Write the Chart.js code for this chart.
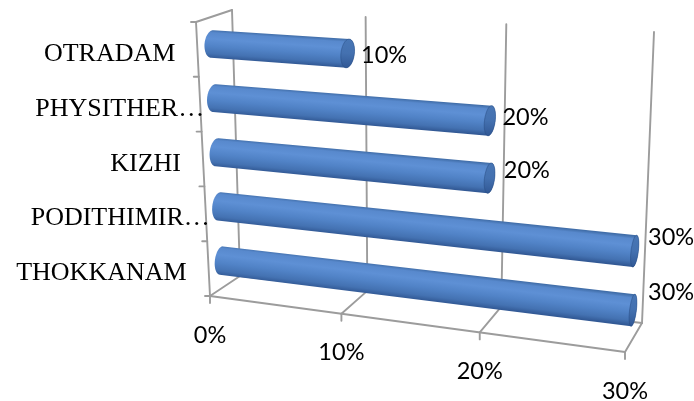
<!DOCTYPE html>
<html>
<head>
<meta charset="utf-8">
<script src="https://cdn.jsdelivr.net/npm/chart.js@4/dist/chart.umd.min.js"></script>
<style>
  html, body { margin: 0; padding: 0; background: #ffffff; }
  #wrap { width: 694px; height: 401px; }
</style>
</head>
<body>
<div id="wrap"><canvas id="chart" width="694" height="401"></canvas></div>
<script>
// Rows listed top to bottom, values in percent
const categories = ['OTRADAM', 'PHYSITHER…', 'KIZHI', 'PODITHIMIR…', 'THOKKANAM'];
const shares = [10, 20, 20, 30, 30];
const tickValues = [0, 10, 20, 30];
const tickLabels = ['0%', '10%', '20%', '30%'];

// Oblique view of the 3-D box: the front plane (depth 0) and the back wall
// (depth 1), each given by its corners for (u,v) = (0,0), (1,0), (0,1), (1,1).
const FRONT = [[196, 22], [631, 53], [210, 296], [625, 352]];
const BACK  = [[232, 10], [654, 32], [240, 276], [642, 323]];
const PERSPECTIVE = 0.075;   // value axis widens slightly toward the right
const BAR_DEPTH = 0.42;      // depth of the cylinder axes
const BAR_RADIUS_DEPTH = 0.22;

const GRID = '#9c9c9c';
const SERIF = '"Liberation Serif", "Times New Roman", serif';
const SANS = 'Lato, "Open Sans", sans-serif';

function warpU(u) { return u - PERSPECTIVE * u * (1 - u); }
function bilinear(q, u, v) {
  const tx = q[0][0] + (q[1][0] - q[0][0]) * u, ty = q[0][1] + (q[1][1] - q[0][1]) * u;
  const bx = q[2][0] + (q[3][0] - q[2][0]) * u, by = q[2][1] + (q[3][1] - q[2][1]) * u;
  return [tx + (bx - tx) * v, ty + (by - ty) * v];
}
function proj(u, v, d) {
  const w = warpU(u);
  const f = bilinear(FRONT, w, v), b = bilinear(BACK, w, v);
  return [f[0] + (b[0] - f[0]) * d, f[1] + (b[1] - f[1]) * d];
}

function ellipseAt(u, v, rv) {
  const c = proj(u, v, BAR_DEPTH);
  const pv = proj(u, v + rv, BAR_DEPTH);
  const pd = proj(u, v, BAR_DEPTH + BAR_RADIUS_DEPTH);
  return { c, A: [pv[0] - c[0], pv[1] - c[1]], B: [pd[0] - c[0], pd[1] - c[1]] };
}
function onEllipse(e, t) {
  return [e.c[0] + Math.cos(t) * e.A[0] + Math.sin(t) * e.B[0],
          e.c[1] + Math.cos(t) * e.A[1] + Math.sin(t) * e.B[1]];
}
function dot(p, q) { return p[0] * q[0] + p[1] * q[1]; }

// Half of an ellipse between its two silhouette points, on the side given by sign
function halfArc(ctx, e, tStart, axis, sign, first) {
  const mid = onEllipse(e, tStart + Math.PI / 2);
  const dir = Math.sign(dot([mid[0] - e.c[0], mid[1] - e.c[1]], axis)) === sign ? 1 : -1;
  const N = 40;
  for (let k = 0; k <= N; k++) {
    const p = onEllipse(e, tStart + dir * Math.PI * k / N);
    if (k === 0 && first) ctx.moveTo(p[0], p[1]); else ctx.lineTo(p[0], p[1]);
  }
}

function drawCylinder(ctx, u0, u1, v, rv) {
  const L = ellipseAt(u0, v, rv), R = ellipseAt(u1, v, rv);
  let ax = [R.c[0] - L.c[0], R.c[1] - L.c[1]];
  const len = Math.hypot(ax[0], ax[1]) || 1;
  ax = [ax[0] / len, ax[1] / len];
  const n = [-ax[1], ax[0]];
  const tBotL = Math.atan2(dot(L.B, n), dot(L.A, n));
  const tBotR = Math.atan2(dot(R.B, n), dot(R.A, n));

  // body: left rounded end, then the far cap outline
  ctx.beginPath();
  halfArc(ctx, L, tBotL + Math.PI, ax, -1, true);
  halfArc(ctx, R, tBotR, ax, 1, false);
  ctx.closePath();
  const m = [(L.c[0] + R.c[0]) / 2, (L.c[1] + R.c[1]) / 2];
  const bl = onEllipse(L, tBotL), br = onEllipse(R, tBotR);
  const hL = dot([bl[0] - L.c[0], bl[1] - L.c[1]], n);
  const hR = dot([br[0] - R.c[0], br[1] - R.c[1]], n);
  const h = (hL + hR) / 2;
  const g = ctx.createLinearGradient(m[0] - n[0] * h, m[1] - n[1] * h, m[0] + n[0] * h, m[1] + n[1] * h);
  g.addColorStop(0.00, '#416ea9');
  g.addColorStop(0.10, '#5889cd');
  g.addColorStop(0.32, '#5e90d5');
  g.addColorStop(0.58, '#5183c7');
  g.addColorStop(0.84, '#4472b2');
  g.addColorStop(1.00, '#325995');
  ctx.fillStyle = g;
  ctx.fill();

  // visible end cap
  ctx.beginPath();
  for (let k = 0; k <= 60; k++) {
    const p = onEllipse(R, 2 * Math.PI * k / 60);
    if (k === 0) ctx.moveTo(p[0], p[1]); else ctx.lineTo(p[0], p[1]);
  }
  ctx.closePath();
  const gc = ctx.createLinearGradient(R.c[0] - n[0] * hR, R.c[1] - n[1] * hR, R.c[0] + n[0] * hR, R.c[1] + n[1] * hR);
  gc.addColorStop(0, '#4876b5');
  gc.addColorStop(0.5, '#4471b0');
  gc.addColorStop(1, '#315895');
  ctx.fillStyle = gc;
  ctx.fill();
  ctx.strokeStyle = 'rgba(40,75,130,0.5)';
  ctx.lineWidth = 1;
  ctx.stroke();
}

const box3d = {
  id: 'box3d',
  beforeDatasetsDraw(chart) {
    const { ctx, chartArea: a, scales: { x, y } } = chart;
    const W = a.right - a.left, H = a.bottom - a.top;
    const U = val => (x.getPixelForValue(val) - a.left) / W;
    const seg = (p, q) => { ctx.beginPath(); ctx.moveTo(p[0], p[1]); ctx.lineTo(q[0], q[1]); ctx.stroke(); };
    ctx.save();
    ctx.strokeStyle = GRID;
    ctx.lineWidth = 1.9;
    ctx.lineCap = 'round';
    // back wall gridlines and floor
    tickValues.forEach(t => {
      const u = U(t);
      seg(proj(u, 0, 1), proj(u, 1, 1));
      seg(proj(u, 1, 0), proj(u, 1, 1));
      const p = proj(u, 1, 0);
      seg(p, [p[0], p[1] + 7]);
    });
    seg(proj(0, 1, 1), proj(1, 1, 1));
    seg(proj(0, 1, 0), proj(1, 1, 0));
    // side wall
    seg(proj(0, 0, 0), proj(0, 0, 1));
    seg(proj(0, 0, 0), proj(0, 1, 0));
    // category boundaries on the front edge of the side wall
    const centers = categories.map((_, i) => (y.getPixelForValue(i) - a.top) / H);
    const bounds = [0];
    for (let i = 1; i < centers.length; i++) bounds.push((centers[i - 1] + centers[i]) / 2);
    bounds.push(1);
    bounds.forEach(v => { const p = proj(0, v, 0); seg(p, [p[0] - 5, p[1]]); });
    ctx.restore();
  },
  afterDatasetsDraw(chart) {
    const { ctx, chartArea: a, scales: { x, y } } = chart;
    const W = a.right - a.left, H = a.bottom - a.top;
    const meta = chart.getDatasetMeta(0);
    ctx.save();
    meta.data.forEach((bar) => {
      const p = bar.getProps(['x', 'y', 'base', 'height'], true);
      const u0 = (p.base - a.left) / W, u1 = (p.x - a.left) / W;
      const v = (p.y - a.top) / H, rv = p.height / 2 / H;
      drawCylinder(ctx, u0, u1, v, rv);
    });

    // value labels beyond the end of each cylinder
    ctx.fillStyle = '#000000';
    ctx.font = '23.5px ' + SANS;
    ctx.textAlign = 'left';
    ctx.textBaseline = 'alphabetic';
    meta.data.forEach((bar, i) => {
      const p = bar.getProps(['x', 'y'], true);
      const u1 = (p.x - a.left) / W, v = (p.y - a.top) / H;
      const q = proj(u1, v, 1);
      const dx = -6 + 12 * v, dy = 12 - 16 * v;
      ctx.fillText(shares[i] + '%', q[0] + dx, q[1] + dy + 8.5);
    });

    // value axis labels under the front edge
    ctx.textAlign = 'center';
    tickValues.forEach((t, i) => {
      const q = proj((x.getPixelForValue(t) - a.left) / W, 1, 0);
      ctx.fillText(tickLabels[i], q[0], q[1] + 38 + 8.5);
    });

    // category names beside the side wall
    ctx.font = '26px ' + SERIF;
    ctx.textAlign = 'left';
    categories.forEach((name, i) => {
      const v = (y.getPixelForValue(i) - a.top) / H;
      const q = proj(0, v, 0);
      const base = name.endsWith('…') ? name.slice(0, -1) : name;
      const w = ctx.measureText(base).width;
      ctx.fillText(name, q[0] - 22 - w, q[1] + 3 + 8.6);
    });
    ctx.restore();
  }
};

new Chart(document.getElementById('chart'), {
  type: 'bar',
  data: {
    labels: categories,
    datasets: [{
      data: shares,
      backgroundColor: 'rgba(0,0,0,0)',
      borderWidth: 0,
      barPercentage: 0.5,
      categoryPercentage: 1.0
    }]
  },
  options: {
    indexAxis: 'y',
    responsive: false,
    animation: false,
    layout: { padding: 0 },
    plugins: { legend: { display: false }, tooltip: { enabled: false } },
    scales: {
      x: { display: false, min: 0, max: 30 },
      y: { display: false }
    }
  },
  plugins: [box3d]
});
</script>
</body>
</html>
